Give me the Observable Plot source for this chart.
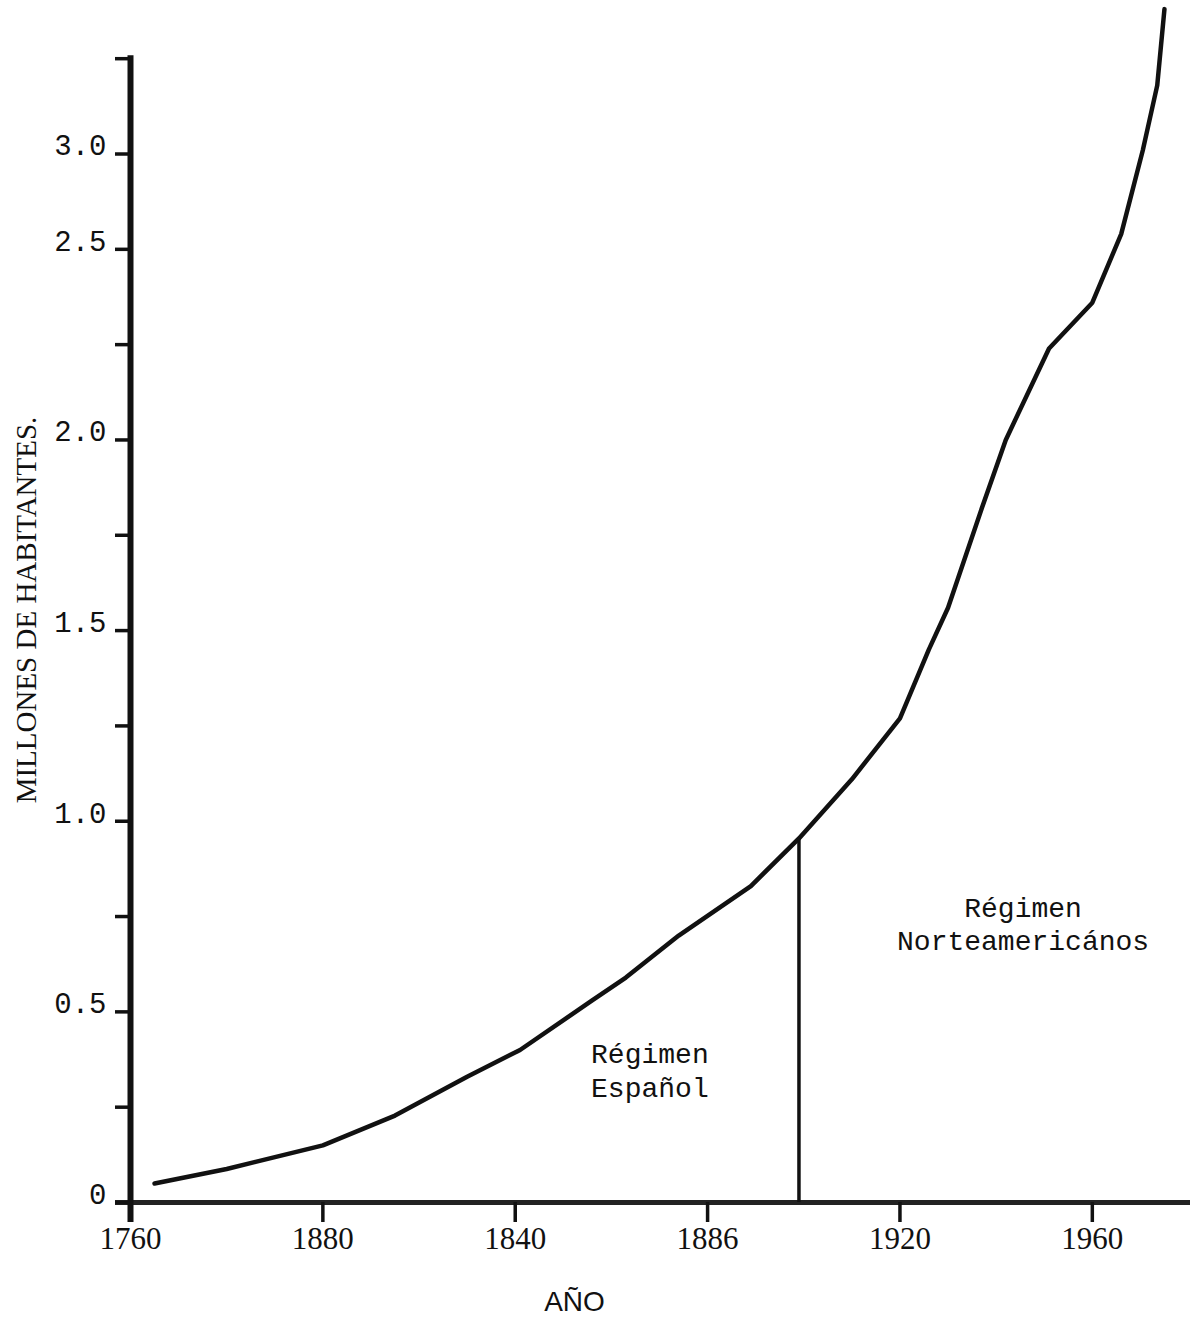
<!DOCTYPE html>
<html>
<head>
<meta charset="utf-8">
<script src="https://cdn.jsdelivr.net/npm/d3@7"></script>
<script src="https://cdn.jsdelivr.net/npm/@observablehq/plot@0.6"></script>
<style>
  html, body { margin: 0; padding: 0; background: #ffffff; }
  #chart svg { display: block; }
</style>
</head>
<body>
<div id="chart"></div>
<script>
// ---- data ----
const years = [1765, 1780, 1800, 1815, 1830, 1841, 1856, 1863, 1874, 1889, 1899, 1910, 1920, 1926, 1930, 1937, 1942, 1951, 1960, 1966, 1970.5, 1973.5, 1975];
const population = [0.05, 0.088, 0.15, 0.228, 0.33, 0.40, 0.53, 0.59, 0.70, 0.83, 0.955, 1.11, 1.27, 1.45, 1.56, 1.82, 2.00, 2.24, 2.36, 2.54, 2.76, 2.93, 3.13];

const regimeChangeYear = 1899;

const xTickValues = [1760, 1800, 1840, 1880, 1920, 1960];
const xTickLabels = ["1760", "1880", "1840", "1886", "1920", "1960"];

const yTickValues = [0, 0.25, 0.5, 0.75, 1.0, 1.25, 1.5, 1.75, 2.0, 2.25, 2.5, 2.75, 3.0];
const yLabelValues = [0, 0.5, 1.0, 1.5, 2.0, 2.5, 2.75];
const yLabelTexts = ["0", "0.5", "1.0", "1.5", "2.0", "2.5", "3.0"];

const noteYears = [1868, 1945.6];
const noteValues = [0.349, 0.734];
const noteTexts = ["Régimen\nEspañol", "Régimen\nNorteamericános"];

const xTitle = "AÑO";
const yTitle = "MILLONES DE HABITANTES.";

// ---- build ----
const series = years.map((y, i) => ({year: y, value: population[i]}));
const regimeValue = population[years.indexOf(regimeChangeYear)];
const mono = "'Liberation Mono', 'DejaVu Sans Mono', monospace";
const serif = "'Liberation Serif', 'DejaVu Serif', serif";
const ink = "#111";

const chart = Plot.plot({
  width: 1190,
  height: 1329,
  marginTop: 1,
  marginRight: 2,
  marginBottom: 127,
  marginLeft: 130,
  style: {background: "#ffffff", overflow: "visible"},
  x: {domain: [1760, 1980], axis: null},
  y: {domain: [0, 3.15], axis: null},
  marks: [
    // x axis baseline
    Plot.ruleY([0], {x1: 1760, x2: 1980, insetLeft: -15, insetRight: -2, stroke: "#222", strokeWidth: 5}),
    // x ticks
    Plot.ruleX(xTickValues, {x: d => d, y1: 0, y2: 0, insetBottom: -20, stroke: ink, strokeWidth: 3.5}),
    Plot.text(xTickValues, {x: d => d, y: 0, text: (d, i) => xTickLabels[i], dy: 37, fontSize: 31, fontFamily: serif, fill: ink}),
    // y axis line
    Plot.ruleX([1760], {y1: 3.0, y2: 0, insetTop: -3, insetBottom: -20, stroke: ink, strokeWidth: 6}),
    // y ticks
    Plot.ruleY(yTickValues, {y: d => d, x1: 1760, x2: 1760, insetLeft: -15, stroke: ink, strokeWidth: 3.5}),
    Plot.text(yLabelValues, {x: 1760, y: d => d, text: (d, i) => yLabelTexts[i], dx: -24, dy: -8, textAnchor: "end", fontSize: 29, fontFamily: mono, fill: ink}),
    // population curve
    Plot.line(series, {x: "year", y: "value", stroke: ink, strokeWidth: 4.5, strokeLinejoin: "round", strokeLinecap: "round", clip: false}),
    // regime change line
    Plot.ruleX([regimeChangeYear], {y1: 0, y2: regimeValue, stroke: ink, strokeWidth: 3.5}),
    // regime notes
    Plot.text(noteYears, {x: d => d, y: (d, i) => noteValues[i], text: (d, i) => noteTexts[i], fontSize: 28, lineHeight: 1.2, fontFamily: mono, fill: ink}),
    // axis titles
    Plot.text([xTitle], {frameAnchor: "bottom-left", textAnchor: "middle", dx: 444, dy: 108, fontSize: 28, fontFamily: "'Liberation Sans', Arial, sans-serif", fill: ink}),
    Plot.text([yTitle], {frameAnchor: "left", textAnchor: "middle", rotate: -90, dx: -104, dy: 8, fontSize: 29, fontFamily: serif, fill: ink})
  ]
});

document.getElementById("chart").appendChild(chart);
</script>
</body>
</html>
